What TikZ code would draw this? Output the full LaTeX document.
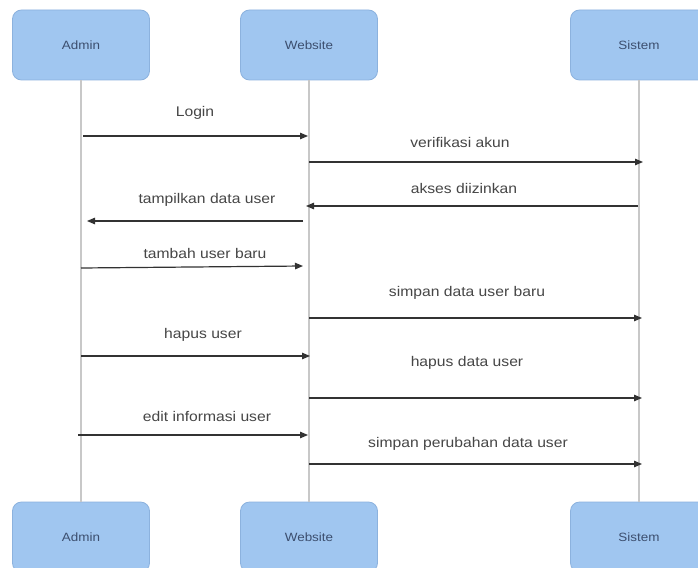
\documentclass[tikz,border=0pt]{standalone}
\usepackage{fontspec}
\setmainfont{Liberation Sans}
\newfontfamily\widesans[FakeStretch=1.12]{Liberation Sans}
\usetikzlibrary{arrows.meta}

\definecolor{boxfill}{RGB}{160,198,240}
\definecolor{boxline}{RGB}{140,178,222}
\definecolor{boxtext}{RGB}{60,78,110}
\definecolor{lifeline}{RGB}{200,200,200}
\definecolor{msgline}{RGB}{50,50,50}
\definecolor{msgtext}{RGB}{70,70,70}

\tikzset{
  actor/.style={draw=boxline, fill=boxfill, line width=0.8pt, rounded corners=9pt,
    minimum width=137pt, minimum height=70pt, inner sep=0pt,
    font=\widesans\fontsize{12}{14}\selectfont, text=boxtext},
  life/.style={draw=lifeline, line width=1.3pt},
  msg/.style={draw=msgline, line width=1.2pt, -{Triangle[length=8pt,width=6.5pt]}},
  msglabel/.style={font=\widesans\fontsize{14}{16}\selectfont, text=msgtext, inner sep=0pt}
}

\begin{document}
\begin{tikzpicture}[x=1pt, y=-1pt]
\useasboundingbox (0,0) rectangle (698,567);
\fill[white] (0,0) rectangle (698,567);

% participants, top row
\node[actor] (adminT) at (81,45) {Admin};
\node[actor] (webT) at (309,45) {Website};
\node[actor] (sysT) at (639,45) {Sistem};
% participants, bottom row
\node[actor] (adminB) at (81,537) {Admin};
\node[actor] (webB) at (309,537) {Website};
\node[actor] (sysB) at (639,537) {Sistem};

% lifelines
\draw[life] (adminT) -- (adminB);
\draw[life] (webT) -- (webB);
\draw[life] (sysT) -- (sysB);

% message end points
\coordinate (m1a) at (83,136);  \coordinate (m1b) at (308,136);
\coordinate (m2a) at (309,162); \coordinate (m2b) at (643,162);
\coordinate (m3a) at (638,206); \coordinate (m3b) at (306,206);
\coordinate (m4a) at (303,221); \coordinate (m4b) at (87,221);
\coordinate (m5a) at (81,268);  \coordinate (m5b) at (303,266);
\coordinate (m6a) at (309,318); \coordinate (m6b) at (642,318);
\coordinate (m7a) at (81,356);  \coordinate (m7b) at (310,356);
\coordinate (m8a) at (309,398); \coordinate (m8b) at (642,398);
\coordinate (m9a) at (78,435);  \coordinate (m9b) at (308,435);
\coordinate (m10a) at (309,464); \coordinate (m10b) at (642,464);

% messages
\draw[msg] (m1a) -- (m1b);
\draw[msg] (m2a) -- (m2b);
\draw[msg] (m3a) -- (m3b);
\draw[msg] (m4a) -- (m4b);
\draw[msg] (m5a) -- (m5b);
\draw[msg] (m6a) -- (m6b);
\draw[msg] (m7a) -- (m7b);
\draw[msg] (m8a) -- (m8b);
\draw[msg] (m9a) -- (m9b);
\draw[msg] (m10a) -- (m10b);

% message labels
\node[msglabel] (l1) at (195,113) {Login};
\node[msglabel] (l2) at (460,142) {verifikasi akun};
\node[msglabel] (l3) at (464,188) {akses diizinkan};
\node[msglabel] (l4) at (207,200) {tampilkan data user};
\node[msglabel] (l5) at (205,253) {tambah user baru};
\node[msglabel] (l6) at (467,293) {simpan data user baru};
\node[msglabel] (l7) at (203,335) {hapus user};
\node[msglabel] (l8) at (467,363) {hapus data user};
\node[msglabel] (l9) at (207,416) {edit informasi user};
\node[msglabel] (l10) at (468,444) {simpan perubahan data user};
\end{tikzpicture}
\end{document}
